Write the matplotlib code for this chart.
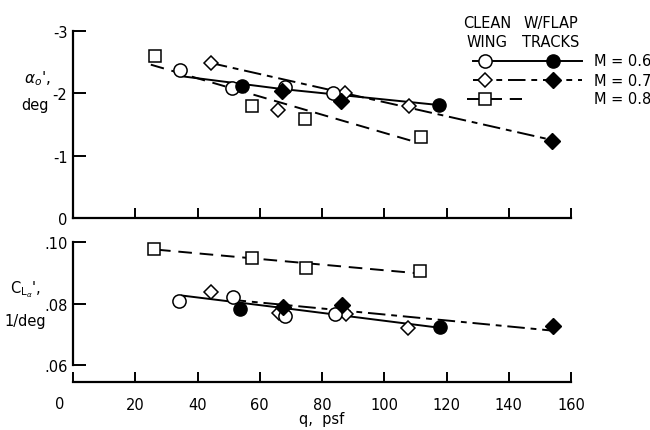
import matplotlib
matplotlib.use("Agg")
import matplotlib.pyplot as plt

plt.rcParams['font.family'] = ['Liberation Sans Narrow', 'DejaVu Sans']
plt.rcParams['axes.unicode_minus'] = False
plt.rcParams['mathtext.fontset'] = 'dejavusans'

# ---- top panel: alpha_0, deg ----
q_a06_clean = [34.4, 51.0, 68.0, 83.6]
a_a06_clean = [-2.38, -2.09, -2.10, -2.01]
q_a06_flap = [54.4, 117.7]
a_a06_flap = [-2.11, -1.81]
q_a07_clean = [44.3, 66.0, 87.4, 108.0]
a_a07_clean = [-2.49, -1.74, -2.01, -1.79]
q_a07_flap = [67.0, 86.0, 153.8]
a_a07_flap = [-2.04, -1.88, -1.24]
q_a08_clean = [26.3, 57.4, 74.6, 111.7]
a_a08_clean = [-2.60, -1.79, -1.59, -1.30]
# faired curves
fq_a06 = [34, 67, 118]
fa_a06 = [-2.28, -2.07, -1.81]
fq_a07 = [44, 154]
fa_a07 = [-2.49, -1.25]
fq_a08 = [25, 110]
fa_a08 = [-2.46, -1.22]

# ---- bottom panel: CL_alpha, 1/deg ----
q_c06_clean = [34.2, 51.5, 68.1, 84.2]
c_c06_clean = [0.0809, 0.0820, 0.0758, 0.0766]
q_c06_flap = [53.7, 117.9]
c_c06_flap = [0.0782, 0.0723]
q_c07_clean = [44.3, 66.2, 87.7, 107.7]
c_c07_clean = [0.0836, 0.0769, 0.0766, 0.0719]
q_c07_flap = [67.6, 86.3, 154.3]
c_c07_flap = [0.0788, 0.0795, 0.0726]
q_c08_clean = [26.0, 57.4, 75.0, 111.5]
c_c08_clean = [0.0977, 0.0947, 0.0914, 0.0907]
fq_c06 = [35, 69.5, 118]
fc_c06 = [0.0826, 0.0783, 0.0721]
fq_c07 = [50, 154]
fc_c07 = [0.0813, 0.0712]
fq_c08 = [27, 110]
fc_c08 = [0.0975, 0.0899]

xticks = [0, 20, 40, 60, 80, 100, 120, 140, 160]
mach_labels = ["M = 0.6", "M = 0.7", "M = 0.8"]

W, H = 650, 431
fig = plt.figure(figsize=(6.5, 4.31), dpi=100)

def px_axes(x0, y0, x1, y1):
    return fig.add_axes([x0 / W, 1 - y1 / H, (x1 - x0) / W, (y1 - y0) / H])

ax1 = px_axes(73, 32, 571, 219)
ax2 = px_axes(73, 243, 571, 383)

lw = 1.4
dash07 = (0, (9, 3, 3, 3))
dash08 = (0, (7, 4))
ms_o, ms_s, ms_d, ms_df = 9.5, 8.5, 7.5, 8
open_kw = dict(markerfacecolor='white', markeredgecolor='black', markeredgewidth=1.1, color='black', linestyle='none', zorder=4)
fill_kw = dict(markerfacecolor='black', markeredgecolor='black', color='black', linestyle='none', zorder=5)

def draw_panel(ax, fq6, f6, fq7, f7, fq8, f8, q6c, v6c, q6f, v6f, q7c, v7c, q7f, v7f, q8c, v8c):
    ax.plot(fq6, f6, color='black', lw=lw, zorder=2)
    ax.plot(fq7, f7, color='black', lw=lw, linestyle=dash07, zorder=2)
    ax.plot(fq8, f8, color='black', lw=lw, linestyle=dash08, zorder=2)
    ax.plot(q8c, v8c, marker='s', markersize=ms_s, **open_kw)
    ax.plot(q7c, v7c, marker='D', markersize=ms_d, **open_kw)
    ax.plot(q6c, v6c, marker='o', markersize=ms_o, **open_kw)
    ax.plot(q7f, v7f, marker='D', markersize=ms_df, **fill_kw)
    ax.plot(q6f, v6f, marker='o', markersize=ms_o, **fill_kw)
    for s in ['top', 'right']:
        ax.spines[s].set_visible(False)
    for s in ['left', 'bottom']:
        ax.spines[s].set_linewidth(1.6)
    ax.set_xlim(0, 160)
    ax.set_xticks(xticks)
    ax.tick_params(axis='x', direction='in', length=7, width=1.4)
    ax.tick_params(axis='y', direction='in', length=9, width=1.4, pad=4, labelsize=10.5)

draw_panel(ax1, fq_a06, fa_a06, fq_a07, fa_a07, fq_a08, fa_a08,
           q_a06_clean, a_a06_clean, q_a06_flap, a_a06_flap,
           q_a07_clean, a_a07_clean, q_a07_flap, a_a07_flap,
           q_a08_clean, a_a08_clean)
ax1.set_ylim(0, -3)
ax1.set_yticks([0, -1, -2, -3])
ax1.set_yticklabels(["0", "-1", "-2", "-3"])
ax1.set_xticklabels([])

draw_panel(ax2, fq_c06, fc_c06, fq_c07, fc_c07, fq_c08, fc_c08,
           q_c06_clean, c_c06_clean, q_c06_flap, c_c06_flap,
           q_c07_clean, c_c07_clean, q_c07_flap, c_c07_flap,
           q_c08_clean, c_c08_clean)
ax2.set_ylim(0.0545, 0.10)
ax2.set_yticks([0.06, 0.08, 0.10])
ax2.set_yticklabels([".06", ".08", ".10"])
ax2.spines['left'].set_bounds(0.06, 0.10)
ax2.set_xticklabels([""] + [str(t) for t in xticks[1:]], fontsize=10.5)
ax2.tick_params(axis='x', pad=11)
ax2.set_xlabel("q,  psf", fontsize=10.5, labelpad=-1)

# overlay in pixel coordinates for labels and the key
ov = fig.add_axes([0, 0, 1, 1], facecolor='none')
ov.set_xlim(0, W)
ov.set_ylim(H, 0)
ov.axis('off')

ov.text(60, 405, "0", fontsize=10.5, ha='center', va='center')
ov.text(37, 79, r"$\alpha_{o}$',", fontsize=11, ha='center', va='center')
ov.text(35, 106, "deg", fontsize=10.5, ha='center', va='center')
ov.text(25, 290, r"$\mathrm{C}_{\mathrm{L}_{\alpha}}$',", fontsize=10.5, ha='center', va='center')
ov.text(25, 322, "1/deg", fontsize=10.5, ha='center', va='center')

ov.text(487, 33, "CLEAN\nWING", fontsize=10.5, ha='center', va='center', linespacing=1.4)
ov.text(551, 33, "W/FLAP\nTRACKS", fontsize=10.5, ha='center', va='center', linespacing=1.4)

ky = [62, 81, 100]
ov.plot([473, 582], [ky[0], ky[0]], color='black', lw=lw)
ov.plot([473, 485, 553, 582], [ky[1]] * 4, color='black', lw=lw, linestyle=dash07)
ov.plot([467, 522], [ky[2], ky[2]], color='black', lw=lw, linestyle=dash08)
ov.plot([485], [ky[0]], marker='o', markersize=ms_o, **open_kw)
ov.plot([553], [ky[0]], marker='o', markersize=ms_o, **fill_kw)
ov.plot([485], [ky[1]], marker='D', markersize=ms_d, **open_kw)
ov.plot([553], [ky[1]], marker='D', markersize=ms_df, **fill_kw)
ov.plot([485], [ky[2]], marker='s', markersize=ms_s, **open_kw)
for yk, lab in zip(ky, mach_labels):
    ov.text(594, yk, lab, fontsize=10.5, ha='left', va='center')

fig.savefig("out.png", dpi=100)
